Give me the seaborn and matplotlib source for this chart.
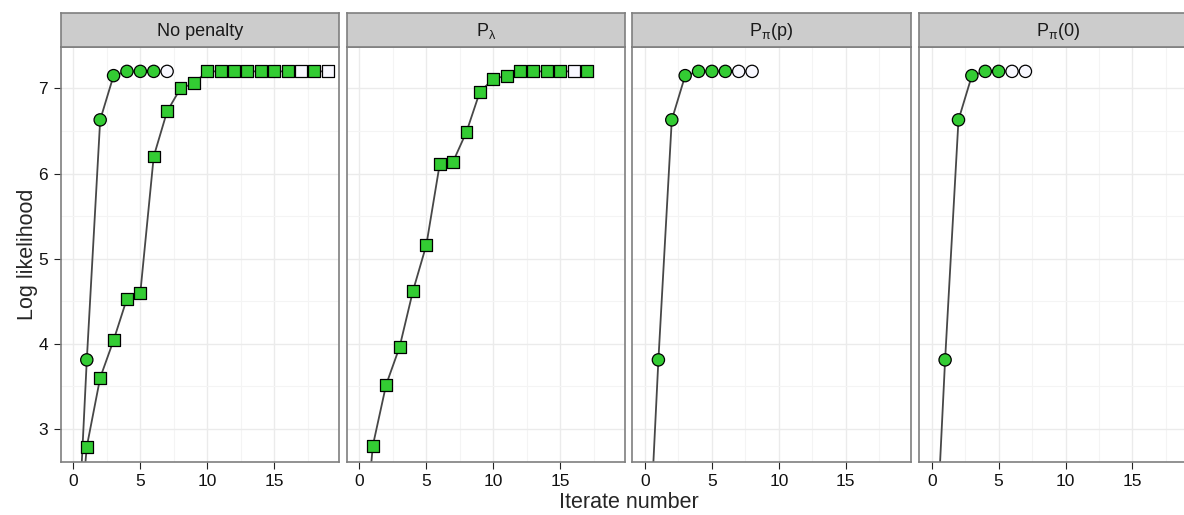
import seaborn as sns
import matplotlib.pyplot as plt
import pandas as pd
import numpy as np

# Log likelihood by iterate, one panel per penalty type
panels = ['No penalty', 'P_lambda', 'P_pi(p)', 'P_pi(0)']
strip_labels = ['No penalty', r'P$_\mathrm{λ}$', r'P$_\mathrm{π}$(p)', r'P$_\mathrm{π}$(0)']

no_pen_circle = [0.6, 3.81, 6.63, 7.15, 7.20, 7.20, 7.20, 7.20]
no_pen_circle_hollow = [0, 0, 0, 0, 0, 0, 0, 1]
no_pen_square = [1.0, 2.79, 3.60, 4.04, 4.53, 4.60, 6.20, 6.73, 7.00, 7.06,
                 7.20, 7.20, 7.20, 7.20, 7.20, 7.20, 7.20, 7.20, 7.20, 7.20]
no_pen_square_hollow = [0] * 17 + [1, 0, 1]
p_lambda_square = [1.0, 2.80, 3.52, 3.96, 4.62, 5.16, 6.11, 6.14, 6.49, 6.96,
                   7.11, 7.15, 7.20, 7.20, 7.20, 7.20, 7.20, 7.20]
p_lambda_square_hollow = [0] * 16 + [1, 0]
p_pi_p_circle = [0.6, 3.81, 6.63, 7.15, 7.20, 7.20, 7.20, 7.20, 7.20]
p_pi_p_circle_hollow = [0, 0, 0, 0, 0, 0, 0, 1, 1]
p_pi_0_circle = [0.6, 3.81, 6.63, 7.15, 7.20, 7.20, 7.20, 7.20]
p_pi_0_circle_hollow = [0, 0, 0, 0, 0, 0, 1, 1]

series = [
    ('No penalty', 'circle', no_pen_circle, no_pen_circle_hollow),
    ('No penalty', 'square', no_pen_square, no_pen_square_hollow),
    ('P_lambda', 'square', p_lambda_square, p_lambda_square_hollow),
    ('P_pi(p)', 'circle', p_pi_p_circle, p_pi_p_circle_hollow),
    ('P_pi(0)', 'circle', p_pi_0_circle, p_pi_0_circle_hollow),
]
frames = []
for panel, shape, vals, hollow in series:
    frames.append(pd.DataFrame({
        'panel': panel, 'shape': shape,
        'iter': np.arange(len(vals)), 'loglik': vals,
        'fill': ['open' if h else 'filled' for h in hollow],
    }))
df = pd.concat(frames, ignore_index=True)

sns.set_style("white")
plt.rcParams['font.family'] = ['Liberation Sans', 'DejaVu Sans']
plt.rcParams['mathtext.fontset'] = 'custom'
plt.rcParams['mathtext.rm'] = 'Liberation Sans'

W, H = 1184, 515
fig = plt.figure(figsize=(W / 100, H / 100), dpi=100)

fill_pal = {'filled': '#33CC33', 'open': '#F8F8FF'}
marker_map = {'circle': 'o', 'square': 's'}
size_map = {'circle': 78, 'square': 74}

lefts = [60.7, 346.7, 632.3, 919.0]
pw, top, bot = 278.4, 46.7, 462.0

for i, panel in enumerate(panels):
    ax = fig.add_axes([lefts[i] / W, 1 - bot / H, pw / W, (bot - top) / H])
    sub = df[df['panel'] == panel]
    for shape, g in sub.groupby('shape'):
        sns.lineplot(data=g, x='iter', y='loglik', estimator=None, sort=False,
                     color='#474747', lw=1.3, ax=ax, zorder=2)
        sns.scatterplot(data=g, x='iter', y='loglik', hue='fill', palette=fill_pal,
                        marker=marker_map[shape], s=size_map[shape],
                        edgecolor='black', linewidth=0.9, legend=False, ax=ax, zorder=3)
    ax.set_xlim(-0.95, 19.85)
    ax.set_ylim(2.61, 7.49)
    ax.set_xticks([0, 5, 10, 15])
    ax.set_xticks([2.5, 7.5, 12.5, 17.5], minor=True)
    ax.set_yticks([3, 4, 5, 6, 7])
    ax.set_yticks([3.5, 4.5, 5.5, 6.5], minor=True)
    ax.grid(which='major', color='#EBEBEB', lw=1.0, zorder=0)
    ax.grid(which='minor', color='#F4F4F4', lw=0.8, zorder=0)
    ax.set_axisbelow(True)
    ax.set_xlabel('')
    ax.set_ylabel('')
    ax.tick_params(axis='both', which='major', labelsize=12.5, color='#222222',
                   length=5, width=0.8, pad=4, labelcolor='#111111')
    ax.tick_params(which='minor', length=0)
    ax.tick_params(axis='x', bottom=True)
    ax.tick_params(axis='y', left=(i == 0), labelleft=(i == 0))
    for sp in ax.spines.values():
        sp.set_color('#7F7F7F')
        sp.set_linewidth(1.2)

    # facet strip
    sax = fig.add_axes([lefts[i] / W, 1 - top / H, pw / W, 33.4 / H])
    sax.set_facecolor('#CCCCCC')
    sax.set_xticks([])
    sax.set_yticks([])
    for sp in sax.spines.values():
        sp.set_color('#7F7F7F')
        sp.set_linewidth(1.2)
    sax.text(0.5, 0.47, strip_labels[i], ha='center', va='center', fontsize=13,
             color='#1A1A1A', transform=sax.transAxes)

fig.text(28 / W, 1 - 254 / H, 'Log likelihood', rotation=90, ha='center',
         va='center', fontsize=15.5)
fig.text(629 / W, 1 - 503 / H, 'Iterate number', ha='center', va='center',
         fontsize=15.5)

fig.savefig("out.png", dpi=100)
